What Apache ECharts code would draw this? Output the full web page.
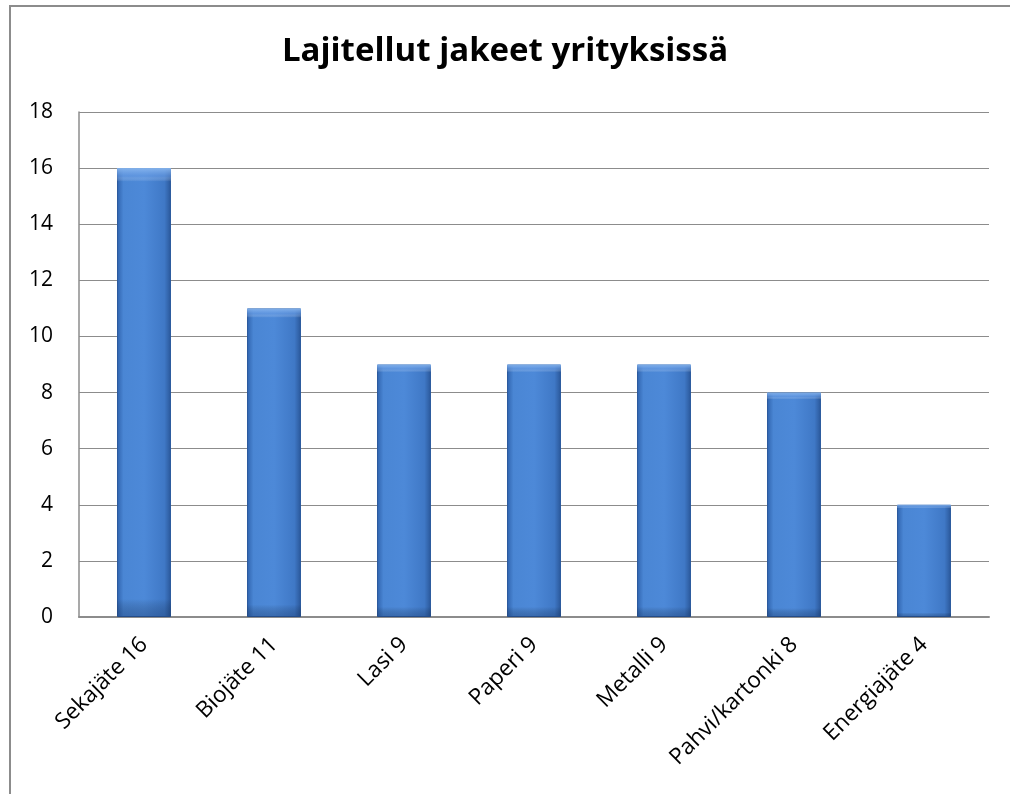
<!DOCTYPE html>
<html><head><meta charset="utf-8">
<script src="https://cdn.jsdelivr.net/npm/echarts@6/dist/echarts.min.js"></script>
<style>html,body{margin:0;padding:0;background:#fff}#c{width:1010px;height:794px}</style>
</head><body><div id="c"></div>
<script>
const categories = ['Sekajäte 16','Biojäte 11','Lasi 9','Paperi 9','Metalli 9','Pahvi/kartonki 8','Energiajäte 4'];
const values = [16, 11, 9, 9, 9, 8, 4];
const titleText = 'Lajitellut jakeet yrityksissä';
const font = 'Open Sans';
const chart = echarts.init(document.getElementById('c'), null, {renderer:'canvas'});
chart.setOption({
  animation:false,
  title:{text:titleText,left:'center',top:30,textStyle:{fontFamily:font,fontSize:33,fontWeight:'bold',color:'#000'}},
  graphic:[{type:'rect',shape:{x:10,y:6,width:1010,height:800},style:{fill:'none',stroke:'#8c8c8c',lineWidth:2},silent:true}],
  grid:{left:79,right:21,top:112,bottom:177,containLabel:false},
  xAxis:{type:'category',data:categories,
    axisLine:{show:true,lineStyle:{color:'#8c8c8c',width:2}},
    axisTick:{show:false},
    axisLabel:{rotate:45,fontFamily:font,fontSize:22.5,color:'#000',margin:24,interval:0}},
  yAxis:{type:'value',min:0,max:18,interval:2,
    axisLine:{show:true,lineStyle:{color:'#8c8c8c',width:1.5}},
    axisTick:{show:false},
    splitLine:{lineStyle:{color:'#8c8c8c',width:1.2}},
    axisLabel:{fontFamily:font,fontSize:21,color:'#000',margin:26}},
  series:[{type:'bar',data:values,barWidth:'41.5%',
    itemStyle:{
      color:new echarts.graphic.LinearGradient(0,0,1,0,[
        {offset:0,color:'#2f63ad'},{offset:0.12,color:'#4a86d4'},{offset:0.5,color:'#4d89d8'},{offset:0.88,color:'#3f78c6'},{offset:1,color:'#2a5799'}]),
      borderColor:'#2b5a9e',borderWidth:1}
  },{type:'bar',data:values,barWidth:'41.5%',barGap:'-100%',silent:true,
    itemStyle:{color:new echarts.graphic.LinearGradient(0,0,0,1,[
      {offset:0,color:'rgba(140,185,240,0.9)'},{offset:0.018,color:'rgba(110,160,230,0.5)'},{offset:0.03,color:'rgba(255,255,255,0)'},
      {offset:0.96,color:'rgba(0,0,0,0)'},{offset:1,color:'rgba(20,50,100,0.35)'}])}
  }]
});
</script></body></html>
